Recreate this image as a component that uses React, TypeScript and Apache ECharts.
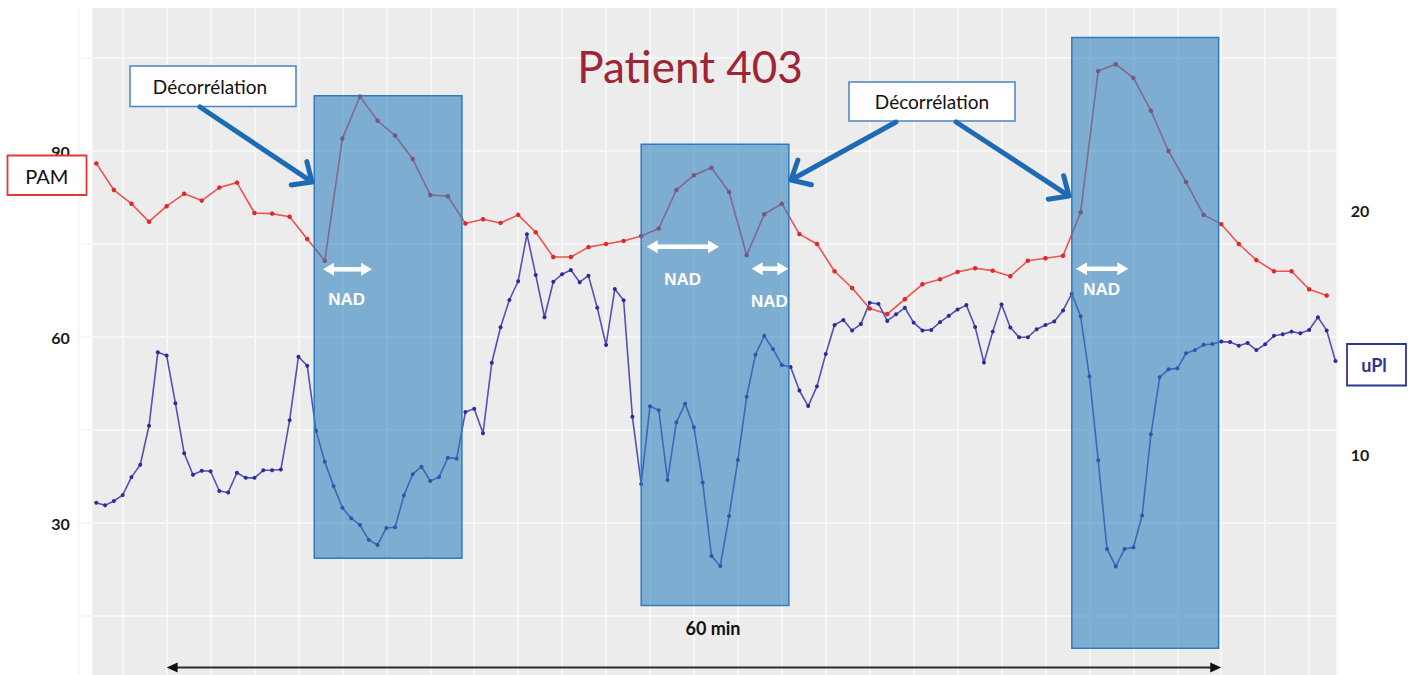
import React, { useEffect, useRef } from "react";
import * as echarts from "echarts";

// ---- data (time in minutes, PAM in mmHg on left axis, uPl on right axis) ----
const PAM_START_MIN = 1;
const PAM_STEP_MIN = 1;
const pamValues = [
  88.0, 83.7, 81.5, 78.6, 81.1, 83.1, 82.0, 84.1, 84.9, 80.0,
  79.9, 79.4, 75.8, 72.3, 92.0, 98.8, 94.9, 92.5, 88.7, 82.9,
  82.7, 78.3, 79.0, 78.4, 79.7, 76.9, 72.9, 72.9, 74.5, 75.0,
  75.5, 76.3, 77.5, 83.7, 86.1, 87.3, 83.4, 73.2, 79.8, 81.5,
  76.6, 75.0, 70.6, 67.9, 64.6, 63.7, 66.1, 68.5, 69.3, 70.5,
  71.1, 70.7, 69.8, 72.3, 72.7, 73.1, 80.1, 102.9, 104.0, 101.8,
  96.5, 90.0, 85.0, 79.7, 78.2, 75.0, 72.4, 70.6, 70.6, 67.7,
  66.7,
];

const UPL_START_MIN = 1;
const UPL_STEP_MIN = 0.5;
const uplValues = [
  8.0, 7.89, 8.07, 8.31, 9.05, 9.56, 11.16, 14.18, 14.05, 12.09,
  10.03, 9.15, 9.31, 9.29, 8.48, 8.42, 9.23, 9.02, 9.02, 9.33,
  9.33, 9.36, 11.39, 14.0, 13.63, 10.96, 9.68, 8.68, 7.79, 7.36,
  7.08, 6.47, 6.26, 6.96, 6.99, 8.3, 9.17, 9.48, 8.89, 9.05,
  9.85, 9.81, 11.73, 11.86, 10.85, 13.75, 15.21, 16.33, 17.1, 19.03,
  17.36, 15.62, 17.08, 17.39, 17.56, 17.06, 17.33, 16.01, 14.48, 16.78,
  16.32, 11.53, 8.77, 11.96, 11.8, 8.93, 11.3, 12.07, 11.1, 8.83,
  5.81, 5.4, 7.45, 9.75, 12.35, 14.08, 14.86, 14.31, 13.66, 13.58,
  12.61, 11.97, 12.78, 14.11, 15.3, 15.51, 15.08, 15.34, 16.22, 16.17,
  15.47, 15.74, 16.01, 15.4, 15.08, 15.1, 15.42, 15.68, 15.94, 16.12,
  15.22, 13.76, 15.03, 16.15, 15.2, 14.8, 14.8, 15.13, 15.3, 15.45,
  15.9, 16.59, 15.66, 13.19, 9.74, 6.1, 5.38, 6.1, 6.16, 7.47,
  10.81, 13.16, 13.48, 13.52, 14.14, 14.27, 14.49, 14.52, 14.62, 14.6,
  14.45, 14.56, 14.27, 14.51, 14.86, 14.92, 15.03, 14.96, 15.1, 15.62,
  15.08, 13.82,
];

const leftGridValues = [15, 30, 45, 60, 75, 90, 105];
const leftTickLabels = [30, 60, 90];
const rightTickLabels = [10, 20];

// shaded NAD windows (minutes, PAM units)
const windowStarts = [13.4, 32.0, 56.5];
const windowEnds = [21.8, 40.4, 64.85];
const windowLows = [24.3, 16.7, 9.8];
const windowHighs = [98.9, 91.1, 108.3];

// "60 min" span (minutes) and its PAM-level position
const spanMinutes = [5, 65];
const spanLevel = 6.7;

const TITLE = "Patient 403";
const DECOR = "Décorrélation";

const CAL = "Lato, 'Open Sans', sans-serif";
const ARIAL = "'Liberation Sans', Arial, sans-serif";

function dblArrow(x1: number, x2: number, y: number, color: string, z: number) {
  const hl = 11;
  const hh = 6.5;
  return [
    { type: "line", silent: true, z, shape: { x1: x1 + hl - 1, y1: y, x2: x2 - hl + 1, y2: y }, style: { stroke: color, lineWidth: 4.5 } },
    { type: "polygon", silent: true, z, shape: { points: [[x1, y], [x1 + hl, y - hh], [x1 + hl, y + hh]] }, style: { fill: color } },
    { type: "polygon", silent: true, z, shape: { points: [[x2, y], [x2 - hl, y - hh], [x2 - hl, y + hh]] }, style: { fill: color } },
  ];
}

function chevronArrow(x1: number, y1: number, x2: number, y2: number, color: string, z: number) {
  const ang = Math.atan2(y2 - y1, x2 - x1);
  const a = (42 * Math.PI) / 180;
  const len = 21;
  const p1 = [x2 - len * Math.cos(ang - a), y2 - len * Math.sin(ang - a)];
  const p2 = [x2 - len * Math.cos(ang + a), y2 - len * Math.sin(ang + a)];
  return [
    { type: "line", silent: true, z, shape: { x1, y1, x2: x2 - 2 * Math.cos(ang), y2: y2 - 2 * Math.sin(ang) }, style: { stroke: color, lineWidth: 5, lineCap: "round" } },
    { type: "polyline", silent: true, z, shape: { points: [p1, [x2, y2], p2] }, style: { stroke: color, lineWidth: 5, lineCap: "round", lineJoin: "round", fill: null } },
  ];
}

function txt(x: number, y: number, text: string, font: string, fill: string, z: number) {
  return { type: "text", silent: true, z, x, y, style: { text, font, fill, align: "center", verticalAlign: "middle" } };
}

export default function App() {
  const ref = useRef<HTMLDivElement>(null);

  useEffect(() => {
    document.body.style.margin = "0";
    const el = ref.current;
    if (!el) return;
    const chart = echarts.init(el, null, { renderer: "svg" });

    const pamData = pamValues.map((v, i) => [PAM_START_MIN + i * PAM_STEP_MIN, v]);
    const uplData = uplValues.map((v, i) => [UPL_START_MIN + i * UPL_STEP_MIN, v]);

    const gridLine = { show: true, lineStyle: { color: "#f7f7f7", width: 2 } };

    chart.setOption({
      animation: false,
      grid: { left: 78.72, top: 8, width: 1257.98, height: 667, containLabel: false },
      xAxis: {
        type: "value",
        min: 0,
        max: 71.569,
        interval: 2.5,
        axisLine: { show: false },
        axisTick: { show: false },
        axisLabel: { show: false },
        splitLine: gridLine,
      },
      yAxis: [
        {
          type: "value",
          position: "left",
          min: 5.484,
          max: 113.065,
          axisLine: { show: false },
          axisTick: { show: false, customValues: leftGridValues },
          splitLine: gridLine,
          axisLabel: {
            customValues: leftTickLabels,
            margin: 9,
            formatter: (v: number) => (leftTickLabels.includes(v) ? String(v) : ""),
            color: "#1a1a1a",
            fontSize: 16,
            fontWeight: "bold",
            fontFamily: CAL,
          },
        },
        {
          type: "value",
          position: "right",
          min: 0.917,
          max: 28.331,
          axisLine: { show: false },
          axisTick: { show: false, customValues: rightTickLabels },
          splitLine: { show: false },
          axisLabel: {
            customValues: rightTickLabels,
            margin: 14,
            formatter: (v: number) => (rightTickLabels.includes(v) ? String(v) : ""),
            color: "#1a1a1a",
            fontSize: 16,
            fontWeight: "bold",
            fontFamily: CAL,
          },
        },
      ],
      series: [
        {
          name: "PAM",
          type: "line",
          yAxisIndex: 0,
          data: pamData,
          symbol: "circle",
          symbolSize: 4.5,
          z: 3,
          lineStyle: { color: "#ee5252", width: 1.6 },
          itemStyle: { color: "#dc2a2a" },
        },
        {
          name: "uPl",
          type: "line",
          yAxisIndex: 1,
          data: uplData,
          symbol: "circle",
          symbolSize: 4,
          z: 3,
          lineStyle: { color: "#5252b4", width: 1.6 },
          itemStyle: { color: "#2c2c98" },
        },
      ],
    });

    const px = (t: number, v: number) => chart.convertToPixel({ seriesIndex: 0 }, [t, v]) as number[];

    const g: any[] = [];
    // plot background
    g.push({ type: "rect", silent: true, z: -10, shape: { x: 92.3, y: 8, width: 1244.4, height: 667 }, style: { fill: "#ececec" } });

    // NAD windows
    windowStarts.forEach((t0, i) => {
      const a = px(t0, windowHighs[i]);
      const b = px(windowEnds[i], windowLows[i]);
      g.push({
        type: "rect",
        silent: true,
        z: 10,
        shape: { x: a[0], y: a[1], width: b[0] - a[0], height: b[1] - a[1] },
        style: { fill: "rgba(40,123,189,0.56)", stroke: "#2e7bc0", lineWidth: 1.5 },
      });
    });

    // NAD arrows + labels
    g.push(...dblArrow(323, 372, 269.3, "#ffffff", 12));
    g.push(...dblArrow(646.7, 719, 246.7, "#ffffff", 12));
    g.push(...dblArrow(751.7, 788.3, 268.7, "#ffffff", 12));
    g.push(...dblArrow(1076, 1128.3, 268.7, "#ffffff", 12));
    const nadFont = `bold 17px ${ARIAL}`;
    g.push(txt(346.7, 299.5, "NAD", nadFont, "#ffffff", 12));
    g.push(txt(682.7, 279.5, "NAD", nadFont, "#ffffff", 12));
    g.push(txt(769.3, 301.7, "NAD", nadFont, "#ffffff", 12));
    g.push(txt(1101.7, 289.5, "NAD", nadFont, "#ffffff", 12));

    // Décorrélation call-outs
    const decFont = `19px ${CAL}`;
    g.push({ type: "rect", silent: true, z: 12, shape: { x: 130, y: 66, width: 166, height: 40.5 }, style: { fill: "#ffffff", stroke: "#4a84c0", lineWidth: 1.5 } });
    g.push(txt(210, 86.5, DECOR, decFont, "#111111", 13));
    g.push({ type: "rect", silent: true, z: 12, shape: { x: 849, y: 82, width: 166, height: 39 }, style: { fill: "#ffffff", stroke: "#4a84c0", lineWidth: 1.5 } });
    g.push(txt(932, 101.5, DECOR, decFont, "#111111", 13));
    const arrowBlue = "#1f6bb3";
    g.push(...chevronArrow(200, 107, 312, 182, arrowBlue, 12));
    g.push(...chevronArrow(896, 122, 791, 180, arrowBlue, 12));
    g.push(...chevronArrow(956, 122, 1069, 196, arrowBlue, 12));

    // Title
    g.push(txt(690, 66, TITLE, `44px ${CAL}`, "#9e2436", 12));

    // Axis name boxes
    g.push({ type: "rect", silent: true, z: 12, shape: { x: 7.5, y: 155.5, width: 79, height: 39.5 }, style: { fill: "#ffffff", stroke: "#e03838", lineWidth: 1.8 } });
    g.push(txt(46.7, 175.5, "PAM", `20px ${CAL}`, "#111111", 13));
    g.push({ type: "rect", silent: true, z: 12, shape: { x: 1347, y: 344, width: 59, height: 41.5 }, style: { fill: "#ffffff", stroke: "#2f3590", lineWidth: 1.8 } });
    g.push(txt(1374, 365, "uPl", `bold 18px ${CAL}`, "#2f3590", 13));

    // 60 min span arrow
    const s0 = px(spanMinutes[0], spanLevel);
    const s1 = px(spanMinutes[1], spanLevel);
    g.push({ type: "line", silent: true, z: 12, shape: { x1: s0[0] + 8, y1: s0[1], x2: s1[0] - 8, y2: s1[1] }, style: { stroke: "#2a2a2a", lineWidth: 2 } });
    g.push({ type: "polygon", silent: true, z: 12, shape: { points: [[s0[0], s0[1]], [s0[0] + 11, s0[1] - 5], [s0[0] + 11, s0[1] + 5]] }, style: { fill: "#111111" } });
    g.push({ type: "polygon", silent: true, z: 12, shape: { points: [[s1[0], s1[1]], [s1[0] - 11, s1[1] - 5], [s1[0] - 11, s1[1] + 5]] }, style: { fill: "#111111" } });
    g.push(txt(713, 627.5, "60 min", `bold 18px ${CAL}`, "#111111", 12));

    chart.setOption({ graphic: g });

    return () => {
      chart.dispose();
    };
  }, []);

  return <div ref={ref} style={{ width: 1416, height: 675 }} />;
}
